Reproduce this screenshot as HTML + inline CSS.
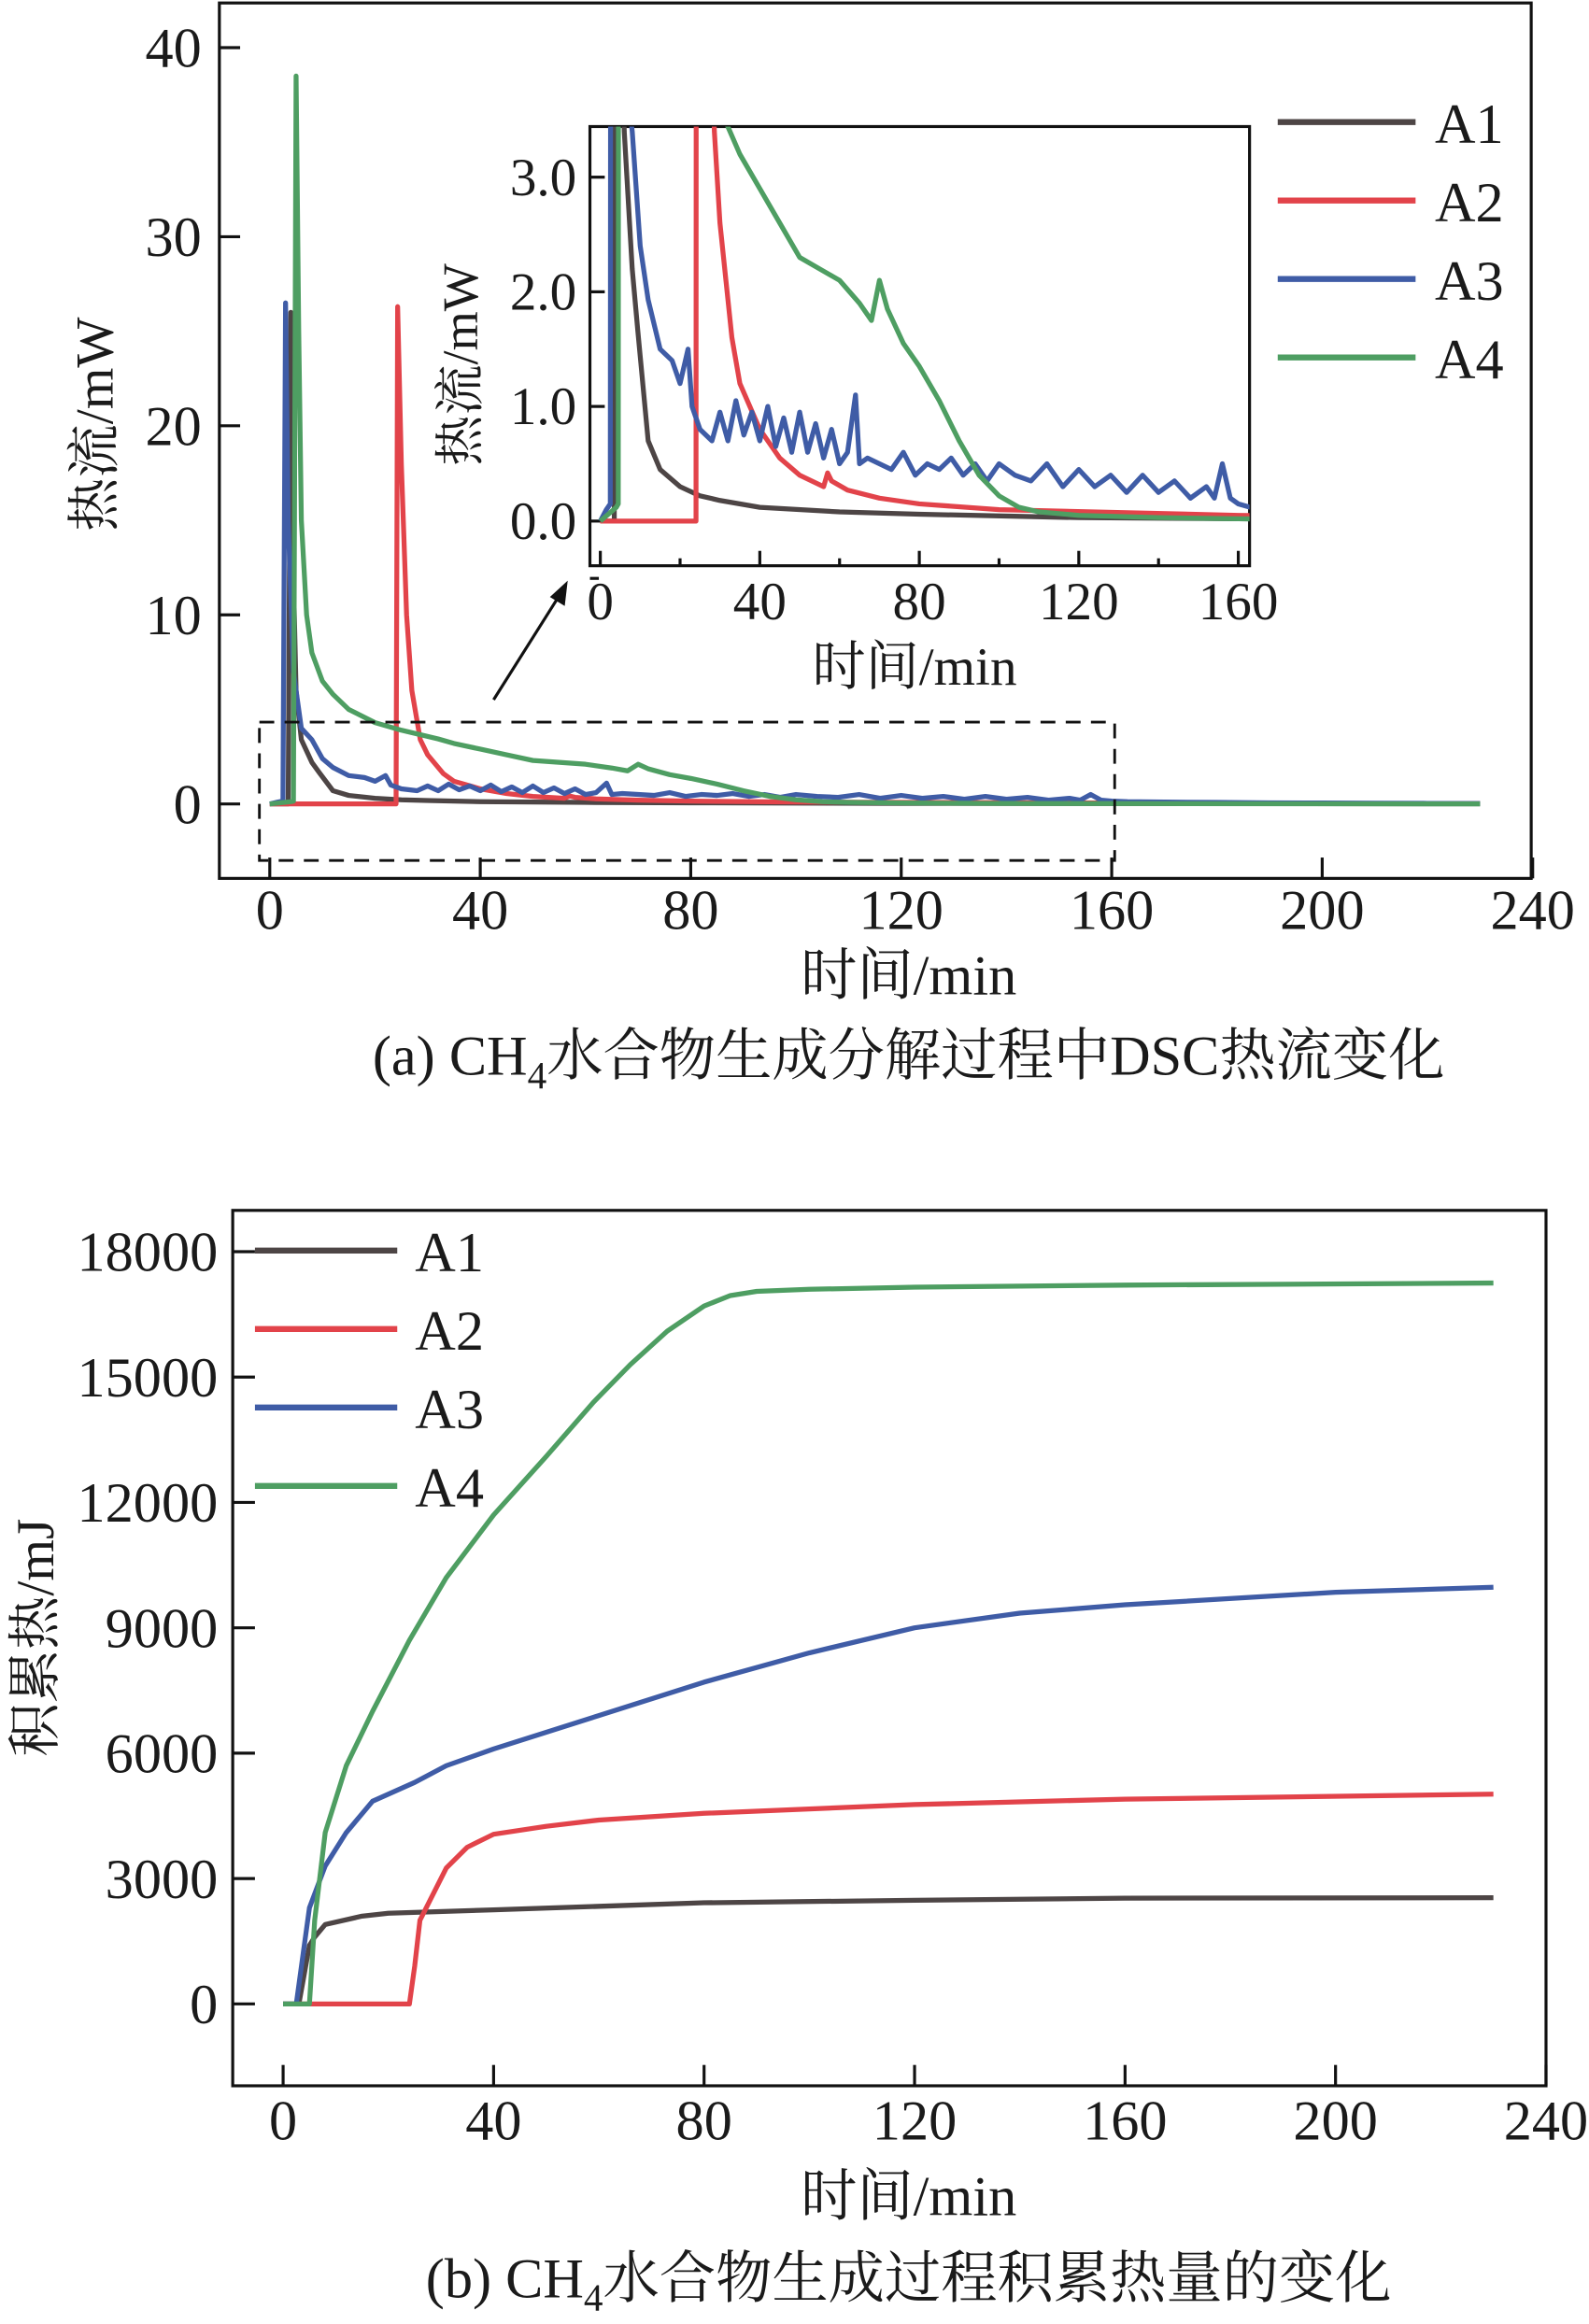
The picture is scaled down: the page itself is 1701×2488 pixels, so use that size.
<!DOCTYPE html>
<html><head><meta charset="utf-8">
<style>
html,body{margin:0;padding:0;background:#fff;}
svg{display:block;}
text{font-family:"Liberation Serif","Noto Serif CJK SC",serif;fill:#1a1a1a;}
</style></head>
<body>
<svg id="fig" width="1701" height="2488" viewBox="0 0 1072 1561" preserveAspectRatio="none" xmlns="http://www.w3.org/2000/svg">
<defs>
<clipPath id="mainClip"><rect x="148" y="2" width="885" height="588"/></clipPath>
<clipPath id="insetClip"><rect x="398" y="85" width="445" height="295"/></clipPath>
<clipPath id="botClip"><rect x="157" y="813" width="886" height="588"/></clipPath>
</defs>
<g id="chartA"></g>
<g id="chartB"></g>
</svg>
<script>
// ---- chart (a) data: heat flow (mW) vs time (min) ----
const a1T=[0,3.5,4,4.5,5,6,8,9.4,12,15,20,25,30,40,60,80,120,160,230];
const a1V=[0,0,26,12,6,3.4,2.2,1.66,0.7,0.45,0.3,0.22,0.18,0.12,0.08,0.06,0.03,0.02,0.01];
const a2T=[0,24,24.3,25,26,27,28.6,30,33,35,40,45,50,56,57,58,62,70,80,100,160,200,230];
const a2V=[0,0,26.3,18,10,6,3.4,2.6,1.6,1.2,0.8,0.55,0.4,0.3,0.42,0.35,0.27,0.2,0.15,0.1,0.05,0.03,0.02];
const a3T=[0,1.5,2.5,3,3.5,4.5,6,8,10,12,15,18,20,22,23,25,28,30,32,34,36,38,40,42,44,46,48,50,52,54,56,58,60,62,64,65,67,70,73,76,79,82,85,88,91,94,97,100,104,108,112,116,120,124,128,132,136,140,144,148,152,154,156,158,160,163,170,180,190,200,210,220,230];
const a3V=[0,0.1,0.15,26.5,15,7,4,3.4,2.4,1.93,1.5,1.4,1.2,1.5,1.0,0.8,0.7,0.95,0.7,1.05,0.75,0.95,0.7,1.0,0.65,0.9,0.6,0.95,0.6,0.85,0.55,0.8,0.5,0.6,1.1,0.5,0.55,0.5,0.45,0.6,0.4,0.5,0.45,0.55,0.4,0.5,0.35,0.5,0.4,0.35,0.5,0.3,0.45,0.3,0.4,0.25,0.4,0.25,0.35,0.2,0.3,0.2,0.5,0.2,0.15,0.12,0.1,0.08,0.06,0.05,0.04,0.03,0.02];
const a4T=[0,4,4.5,5,5.5,6,7,8,10,12,15,20,25,32,35,40,45,50,55,60,65,68,70,72,76,80,85,90,95,100,105,110,120,140,160,200,230];
const a4V=[0,0.12,0.15,38.5,25,15,10,8,6.5,5.8,5,4.3,3.9,3.44,3.2,2.9,2.6,2.3,2.2,2.1,1.9,1.75,2.1,1.85,1.55,1.35,1.05,0.7,0.4,0.22,0.12,0.08,0.05,0.03,0.02,0.01,0];
const mainXTicks=[0,40,80,120,160,200,240];
const mainYTicks=[0,10,20,30,40];
const insetXTicks=[0,40,80,120,160];
const insetYTicks=[0,1,2,3];
const insetYLabels=["0.0","1.0","2.0","3.0"];
// ---- chart (b) data: cumulative heat (mJ) vs time (min) ----
const b1T=[0,3,5,6,8,15,20,40,80,120,160,230];
const b1V=[0,0,1400,1600,1900,2100,2170,2250,2420,2480,2530,2540];
const b2T=[0,24,25,26,28,31,35,40,50,60,80,120,160,230];
const b2V=[0,0,900,2000,2500,3250,3750,4060,4250,4400,4560,4770,4900,5020];
const b3T=[0,2.5,5,8,12,17,25,31,40,60,80,100,120,140,160,200,230];
const b3V=[0,0,2300,3300,4100,4850,5300,5700,6100,6900,7700,8400,9000,9350,9550,9850,9970];
const b4T=[0,5,6,8,12,17,24,31,40,50,59,66,73,80,85,90,100,120,160,230];
const b4V=[0,0,2000,4100,5700,7000,8700,10200,11700,13100,14400,15300,16100,16700,16950,17050,17100,17150,17200,17250];
const botXTicks=[0,40,80,120,160,200,240];
const botYTicks=[0,3000,6000,9000,12000,15000,18000];
const seriesNames=["A1","A2","A3","A4"];
const colors=["#4d4545","#e2434a","#3f5ca6","#4e9e62"];

const NS="http://www.w3.org/2000/svg";
function mk(parent,tag,attrs){const e=document.createElementNS(NS,tag);for(const k in attrs)e.setAttribute(k,attrs[k]);parent.appendChild(e);return e;}
function txt(parent,x,y,s,size,anchor,extra){const t=mk(parent,"text",Object.assign({x:x,y:y,"font-size":size,"text-anchor":anchor||"middle"},extra||{}));t.textContent=s;return t;}

const mx=t=>182+t*3.55, my=v=>540-v*12.7;
const ix=t=>405+t*2.69, iy=v=>350-v*77;
const bx=t=>191+t*3.55, by=v=>1346-v*0.02807;

function pathD(T,V,fx,fy){return T.map((t,i)=>(i?"L":"M")+fx(t).toFixed(2)+" "+fy(V[i]).toFixed(2)).join(" ");}

const gTop=document.getElementById("chartA");
const gBot=document.getElementById("chartB");
const topSeries=[[a1T,a1V],[a2T,a2V],[a3T,a3V],[a4T,a4V]];
const botSeries=[[b1T,b1V],[b2T,b2V],[b3T,b3V],[b4T,b4V]];

// ===== Chart (a) =====
let fr=mk(gTop,"rect",{x:148,y:2,width:885,height:588,fill:"none",stroke:"#111","stroke-width":2});


mainYTicks.forEach(v=>{
  let l=mk(gTop,"line",{x1:148,x2:162,y1:my(v),y2:my(v),stroke:"#111","stroke-width":2});
  
  
  let t=txt(gTop,136,my(v)+13,String(v),38,"end");
  
  
});
mainXTicks.forEach(v=>{
  let l=mk(gTop,"line",{x1:mx(v),x2:mx(v),y1:590,y2:576,stroke:"#111","stroke-width":2});
  
  
  let t=txt(gTop,mx(v),624,String(v),38,"middle");
  
  
});
let gMain=mk(gTop,"g",{"clip-path":"url(#mainClip)"});


topSeries.forEach((s,i)=>{
  let p=mk(gMain,"path",{d:pathD(s[0],s[1],mx,my),fill:"none",stroke:colors[i],"stroke-width":3.3,"stroke-linejoin":"round"});
  
  
});
let db=mk(gTop,"rect",{x:175,y:485,width:577,height:93,fill:"none",stroke:"#111","stroke-width":1.8,"stroke-dasharray":"10 7"});


let ar=mk(gTop,"line",{x1:333,y1:470,x2:378,y2:399,stroke:"#111","stroke-width":2});


let ah=mk(gTop,"path",{d:"M383 390 L381 407 L371 401 Z",fill:"#111"});


let yl=txt(gTop,0,0,"热流/mW",36,"middle",{transform:"translate(76 285) rotate(-90)"});


let xl=txt(gTop,613,668,"时间/min",38,"middle");


let cap=mk(gTop,"text",{x:613,y:722,"font-size":38,"text-anchor":"middle"});


cap.innerHTML='(a) CH<tspan font-size="26" dy="9">4</tspan><tspan dy="-9">水合物生成分解过程中DSC热流变化</tspan>';

// legend (a)
seriesNames.forEach((n,i)=>{
  const y=82+i*52.7;
  let l=mk(gTop,"line",{x1:862,x2:955,y1:y,y2:y,stroke:colors[i],"stroke-width":4});
  
  
  let t=txt(gTop,968,y+14,n,38,"start");
  
  
});

// inset
let ib=mk(gTop,"rect",{x:398,y:85,width:445,height:295,fill:"#fff",stroke:"#111","stroke-width":2});


insetYTicks.forEach((v,k)=>{
  let l=mk(gTop,"line",{x1:398,x2:408,y1:iy(v),y2:iy(v),stroke:"#111","stroke-width":2});
  
  
  let t=txt(gTop,389,iy(v)+12,insetYLabels[k],36,"end");
  
  
});
let mt=mk(gTop,"line",{x1:398,x2:404,y1:iy(-0.5),y2:iy(-0.5),stroke:"#111","stroke-width":2});


insetXTicks.forEach(v=>{
  let l=mk(gTop,"line",{x1:ix(v),x2:ix(v),y1:380,y2:370,stroke:"#111","stroke-width":2});
  
  
  if(v<160){let m=mk(gTop,"line",{x1:ix(v+20),x2:ix(v+20),y1:380,y2:375,stroke:"#111","stroke-width":2});
  
  }
  let t=txt(gTop,ix(v),416,String(v),36,"middle");
  
  
});
let gIn=mk(gTop,"g",{"clip-path":"url(#insetClip)"});


topSeries.forEach((s,i)=>{
  let p=mk(gIn,"path",{d:pathD(s[0],s[1],ix,iy),fill:"none",stroke:colors[i],"stroke-width":3.3,"stroke-linejoin":"round"});
  
  
});
let iyl=txt(gTop,0,0,"热流/mW",34,"middle",{transform:"translate(322 245) rotate(-90)"});


let ixl=txt(gTop,617,460,"时间/min",36,"middle");



// ===== Chart (b) =====
let fr2=mk(gBot,"rect",{x:157,y:813,width:886,height:588,fill:"none",stroke:"#111","stroke-width":2});


botYTicks.forEach(v=>{
  let l=mk(gBot,"line",{x1:157,x2:172,y1:by(v),y2:by(v),stroke:"#111","stroke-width":2});
  
  
  let t=txt(gBot,147,by(v)+13,String(v),38,"end");
  
  
});
botXTicks.forEach(v=>{
  let l=mk(gBot,"line",{x1:bx(v),x2:bx(v),y1:1401,y2:1387,stroke:"#111","stroke-width":2});
  
  
  let t=txt(gBot,bx(v),1437,String(v),38,"middle");
  
  
});
let gB=mk(gBot,"g",{"clip-path":"url(#botClip)"});


botSeries.forEach((s,i)=>{
  let p=mk(gB,"path",{d:pathD(s[0],s[1],bx,by),fill:"none",stroke:colors[i],"stroke-width":3.3,"stroke-linejoin":"round"});
  
  
});
seriesNames.forEach((n,i)=>{
  const y=840+i*52.7;
  let l=mk(gBot,"line",{x1:172,x2:268,y1:y,y2:y,stroke:colors[i],"stroke-width":4});
  
  
  let t=txt(gBot,280,y+14,n,38,"start");
  
  
});
let yl2=txt(gBot,0,0,"积累热/mJ",36,"middle",{transform:"translate(36 1100) rotate(-90)"});


let xl2=txt(gBot,613,1488,"时间/min",38,"middle");


let cap2=mk(gBot,"text",{x:613,y:1543,"font-size":38,"text-anchor":"middle"});


cap2.innerHTML='(b) CH<tspan font-size="26" dy="9">4</tspan><tspan dy="-9">水合物生成过程积累热量的变化</tspan>';
</script>
</body></html>
